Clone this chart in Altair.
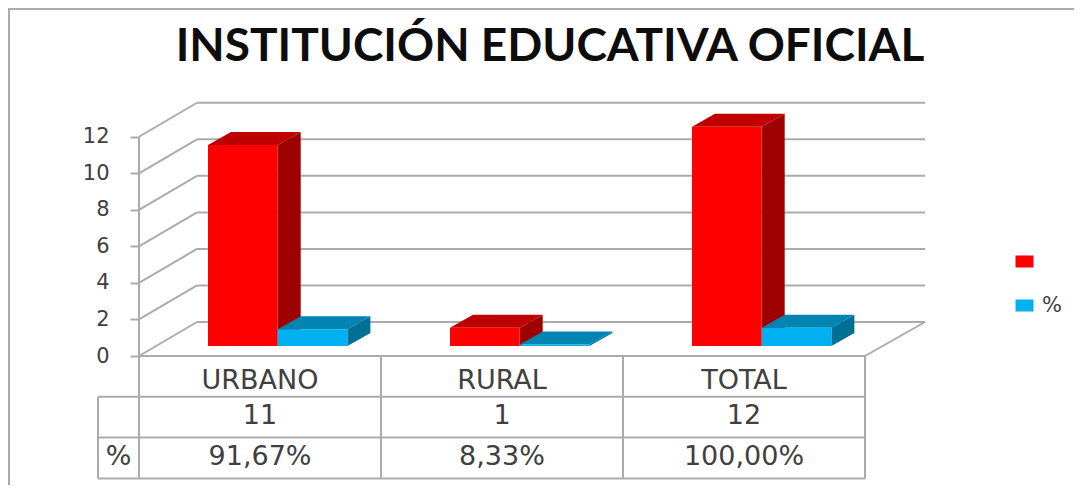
import altair as alt
import pandas as pd

categories = ["URBANO", "RURAL", "TOTAL"]
counts = [11, 1, 12]
shares = [0.9167, 0.0833, 1.0]
count_labels = ["11", "1", "12"]
share_labels = ["91,67%", "8,33%", "100,00%"]
y_ticks = [0, 2, 4, 6, 8, 10, 12]
series_names = [" ", "%"]
title_text = "INSTITUCIÓN EDUCATIVA OFICIAL"

PXU, PXV = 242.0, 18.27
W, H = 1066, 477
X0, Y0 = 139.0, 356.0
xs = alt.Scale(domain=[(8 - X0) / PXU, (8 + W - X0) / PXU], nice=False, zero=False)
ys = alt.Scale(domain=[(Y0 - 8 - H) / PXV, (Y0 - 8) / PXV], nice=False, zero=False)

WDX, WDY = 58 / PXU, 34 / PXV        # depth of the chart box
WDR = 60 / PXU                       # depth of the box at its right end
BDX, BDY = 23 / PXU, 13 / PXV        # depth of a bar
BASE = 10 / PXV                      # bar base above front floor edge
LEFT, BW = 69 / PXU, 69.7 / PXU      # bar inset and width
XMAX = 3.0
GRID = "#ABABAB"
TXT = "#404040"
FONT = "DejaVu Sans"

y_axis = alt.Axis(
    values=y_ticks, orient="left", offset=-131, domain=False, grid=False, title=None,
    tickSize=9, tickColor=GRID, tickWidth=2, labelPadding=21, labelFont=FONT,
    labelFontSize=21, labelColor=TXT, labelFlush=False, labelOverlap=False)
X = alt.X("x:Q", scale=xs, axis=None)
Y = alt.Y("y:Q", scale=ys, axis=y_axis)


def segs(rows):
    return pd.DataFrame(rows, columns=["x", "y", "x2", "y2"])


def rule_layer(rows, width=2, color=GRID):
    return alt.Chart(segs(rows)).mark_rule(color=color, strokeWidth=width).encode(
        x=X, y=Y, x2="x2:Q", y2="y2:Q")


# box: walls, floor, table lines
top = y_ticks[-1]
wall = []
for t in y_ticks:
    wall.append([0, t, WDX, t + WDY])
    wall.append([WDX, t + WDY, XMAX + WDR, t + WDY])
wall.append([0, 0, XMAX, 0])
wall.append([XMAX, 0, XMAX + WDR, WDY])
wall.append([0, 0, 0, top])
R = 40.8 / PXV
wall.append([-41 / PXU, -R, XMAX, -R])
wall.append([-41 / PXU, -2 * R, XMAX, -2 * R])
wall.append([-41 / PXU, -3 * R, XMAX, -3 * R])
wall.append([-41 / PXU, -R, -41 / PXU, -3 * R])
for i in range(4):
    wall.append([i, 0, i, -3 * R])
box = rule_layer(wall)

# outer frame
frame = alt.Chart(pd.DataFrame({"a": [0]})).mark_rule(color=GRID, strokeWidth=2).encode(
    x=alt.value(0), x2=alt.value(W), y=alt.value(1))
frame2 = alt.Chart(pd.DataFrame({"a": [0]})).mark_rule(color=GRID, strokeWidth=2).encode(
    x=alt.value(1), y=alt.value(0), y2=alt.value(H))


def bars(values, series, dark_top, dark_side, offset):
    fr, side, tp = [], [], []
    for i, v in enumerate(values):
        x0 = i + LEFT + offset
        x1 = x0 + BW
        b = BASE
        fr.append(dict(x=x0, x2=x1, y=b, y2=b + v, serie=series))
        side += [dict(id=i, x=x1, y=b, y2=b + v), dict(id=i, x=x1 + BDX, y=b + BDY, y2=b + v + BDY)]
        tp += [dict(id=i, y=b + v, x=x0, x2=x1), dict(id=i, y=b + v + BDY, x=x0 + BDX, x2=x1 + BDX)]
    s = alt.Chart(pd.DataFrame(side)).mark_area(color=dark_side).encode(
        x=X, y=Y, y2="y2:Q", detail="id:N")
    t = alt.Chart(pd.DataFrame(tp)).mark_area(color=dark_top, orient="horizontal").encode(
        y=Y, x=X, x2="x2:Q", detail="id:N")
    f = alt.Chart(pd.DataFrame(fr)).mark_rect().encode(
        x=X, x2="x2:Q", y=Y, y2="y2:Q",
        color=alt.Color("serie:N", scale=alt.Scale(domain=series_names, range=["#FF0000", "#00B0F0"]),
                        legend=alt.Legend(
                            title=None, orient="none", legendX=1006, legendY=243,
                            symbolType="M-1,-0.667H1V0.667H-1Z", symbolSize=324, symbolStrokeWidth=0,
                            rowPadding=22, labelFont=FONT, labelFontSize=21, labelColor=TXT,
                            symbolLimit=2, labelOffset=7)),
    )
    return [s, t, f]


red = bars(counts, series_names[0], "#BF0000", "#9E0000", 0)
blue = bars(shares, series_names[1], "#0085B3", "#006F94", BW)

# table text
rows = []
for i, c in enumerate(categories):
    rows.append(dict(x=i + 0.5, y=(Y0 - 380.5) / PXV, t=c))
    rows.append(dict(x=i + 0.5, y=(Y0 - 415.5) / PXV, t=count_labels[i]))
    rows.append(dict(x=i + 0.5, y=(Y0 - 456.5) / PXV, t=share_labels[i]))
rows.append(dict(x=-20.5 / PXU, y=(Y0 - 456.5) / PXV, t="%"))
table_text = alt.Chart(pd.DataFrame(rows)).mark_text(
    font=FONT, fontSize=27, color=TXT, align="center", baseline="middle").encode(x=X, y=Y, text="t:N")

title_df = pd.DataFrame({"x": [(550 - X0) / PXU], "y": [(Y0 - 47) / PXV], "t": [title_text]})
title_mark = alt.Chart(title_df).mark_text(
    font="Lato", fontSize=46, fontWeight="bold", color="#0D0D0D", align="center", baseline="middle"
).encode(x=X, y=Y, text="t:N")

chart = alt.layer(box, frame, frame2, *red, *blue, table_text, title_mark).resolve_scale(
    color="shared"
).properties(
    width=W, height=H, padding=0, autosize=alt.AutoSizeParams(type="none"),
    background="white",
).configure_view(stroke=None)

chart.save("out.html", embed_options={"renderer": "svg", "actions": False})
